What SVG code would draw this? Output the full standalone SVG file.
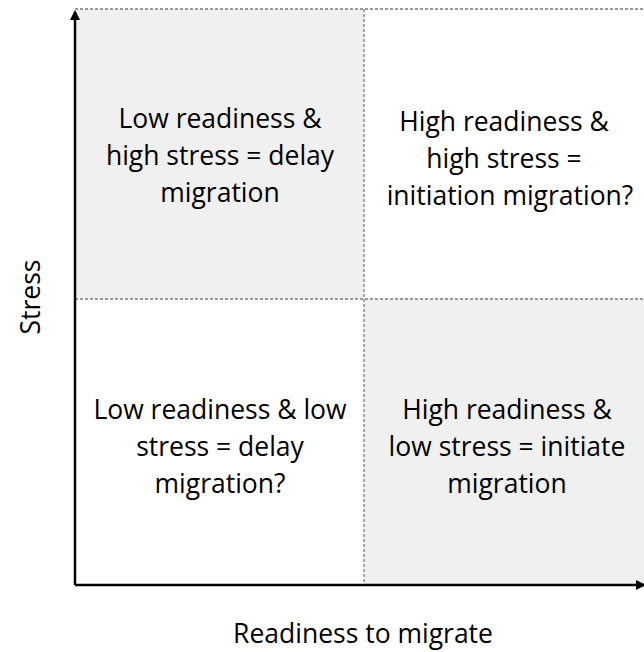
<svg xmlns="http://www.w3.org/2000/svg" width="644" height="652" viewBox="0 0 644 652">
<style>
.q{fill:#f0f0f0}
.d{stroke:#7a7a7a;stroke-width:1.3;stroke-dasharray:3 2;fill:none}
.ax{stroke:#000;stroke-width:2.5;fill:none}
.t{font-family:"Open Sans","Liberation Sans",sans-serif;font-size:26.5px;fill:#000;text-anchor:middle}
</style>
<defs>
<marker id="ah" viewBox="0 0 10 10" refX="8" refY="5" markerWidth="4" markerHeight="4" orient="auto" markerUnits="strokeWidth">
<path d="M0,0 L10,5 L0,10 z" fill="#000"/>
</marker>
</defs>
<rect width="644" height="652" fill="#fff"/>
<g id="q-top-left"><rect class="q" x="75" y="9" width="289" height="290"/>
<text class="t" x="220" y="128">Low readiness &amp;</text>
<text class="t" x="220" y="165">high stress = delay</text>
<text class="t" x="220" y="202">migration</text></g>
<g id="q-top-right">
<text class="t" x="504" y="131">High readiness &amp;</text>
<text class="t" x="504" y="168">high stress =</text>
<text class="t" x="510" y="205">initiation migration?</text></g>
<g id="q-bottom-left">
<text class="t" x="220" y="419">Low readiness &amp; low</text>
<text class="t" x="220" y="456">stress = delay</text>
<text class="t" x="220" y="493">migration?</text></g>
<g id="q-bottom-right"><rect class="q" x="364" y="299" width="280" height="286"/>
<text class="t" x="507" y="419">High readiness &amp;</text>
<text class="t" x="507" y="456">low stress = initiate</text>
<text class="t" x="507" y="493">migration</text></g>
<g id="connectors">
<path class="d" d="M75,9 H644 M364,9 V585 M75,299 H644"/>
<path class="ax" d="M75,585 V12" marker-end="url(#ah)"/>
<path class="ax" d="M75,585 H644" marker-end="url(#ah)"/>
</g>
<g id="labels">
<text class="t" x="0" y="0" transform="translate(40,297) rotate(-90)">Stress</text>
<text class="t" x="363" y="643">Readiness to migrate</text>
</g>
</svg>
